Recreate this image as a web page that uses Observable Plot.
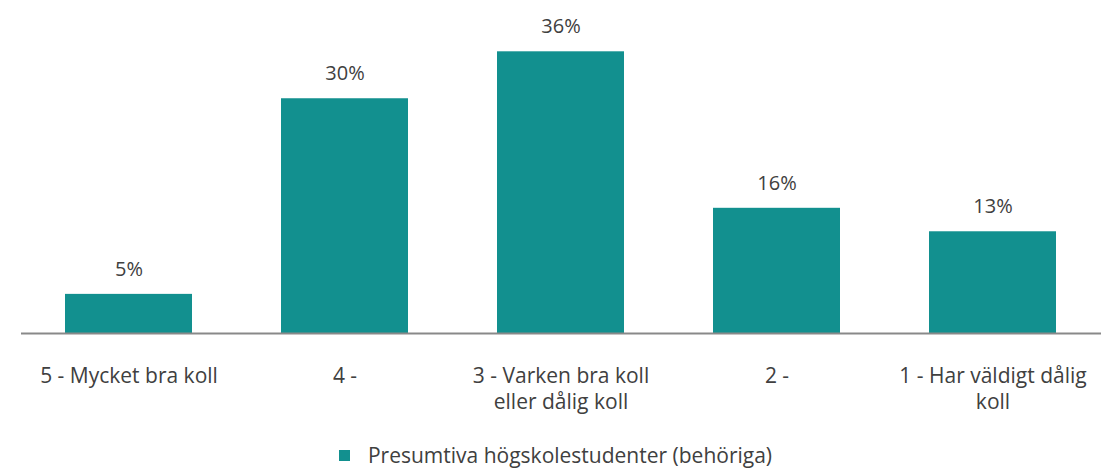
<!DOCTYPE html>
<html>
<head>
<meta charset="utf-8">
<script src="https://cdn.jsdelivr.net/npm/d3@7"></script>
<script src="https://cdn.jsdelivr.net/npm/@observablehq/plot@0.6"></script>
<style>
  html, body { margin: 0; padding: 0; background: #fff; }
  body { width: 1107px; height: 468px; overflow: hidden; font-family: "Open Sans", sans-serif; }
  #chart svg { display: block; }
  #legend { display: flex; justify-content: center; align-items: center; margin-top: 9px; margin-left: 4px; font-size: 21px; line-height: 29px; color: #404040; }
  #legend .sw { width: 11px; height: 11px; background: #12908f; margin-right: 18px; }
</style>
</head>
<body>
<div id="chart"></div>
<div id="legend"><span class="sw"></span><span id="legtext"></span></div>
<script>
const categories = ["5 - Mycket bra koll", "4 -", "3 - Varken bra koll\neller dålig koll", "2 -", "1 - Har väldigt dålig\nkoll"];
const values = [5, 30, 36, 16, 13];
const seriesName = "Presumtiva högskolestudenter (behöriga)";
const color = "#12908f";

const data = categories.map((c, i) => ({category: c, value: values[i]}));

const chart = Plot.plot({
  width: 1107,
  height: 432,
  marginTop: 20,
  marginBottom: 99,
  marginLeft: 21,
  marginRight: 6,
  style: {fontFamily: "'Open Sans', sans-serif", color: "#404040", background: "#fff"},
  x: {domain: categories, paddingInner: 0.41, paddingOuter: 0.205, label: null},
  y: {domain: [0, 40], axis: null},
  marks: [
    Plot.barY(data, {x: "category", y: "value", fill: color}),
    Plot.ruleY([0], {stroke: "#898989", strokeWidth: 2}),
    Plot.text(data, {x: "category", y: "value", text: d => d.value + "%", dy: -25, fontSize: 20, fill: "#404040"}),
    Plot.axisX({tickSize: 0, tickPadding: 32, fontSize: 21, lineHeight: 1.2, fill: "#404040", label: null})
  ]
});
document.getElementById("chart").appendChild(chart);
document.getElementById("legtext").textContent = seriesName;
</script>
</body>
</html>
